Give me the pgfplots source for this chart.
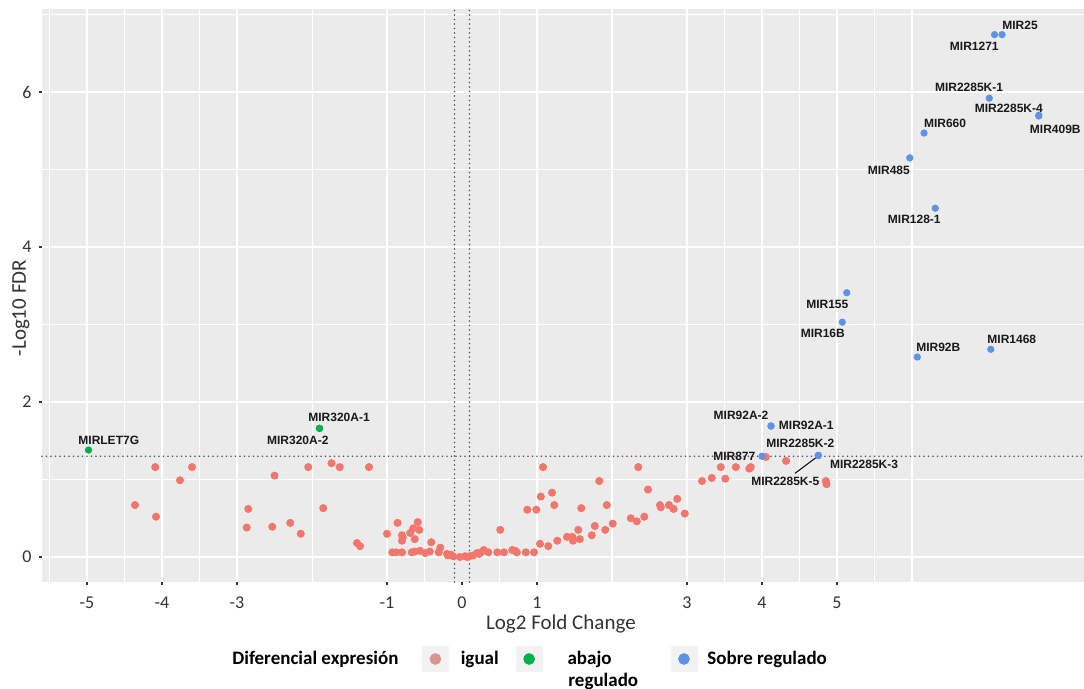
\documentclass[border=0pt]{standalone}
\usepackage{pgfplots}
\pgfplotsset{compat=1.18}
\usepackage{fontspec}
\setmainfont{Carlito}
\newfontfamily\lblfont{Liberation Sans}

\definecolor{panelgrey}{HTML}{EBEBEB}
\definecolor{igualc}{HTML}{F1766B}
\definecolor{abajoc}{HTML}{00B04A}
\definecolor{sobrec}{HTML}{5E92E6}
\definecolor{keybg}{HTML}{F2F2F2}
\definecolor{thr}{HTML}{555555}
\definecolor{tickc}{HTML}{333333}

% 1 px of the 1084 x 689 canvas = 0.5pt
\tikzset{
  majorgrid/.style={white, line width=1pt},
  minorgrid/.style={white, line width=0.5pt},
  threshold/.style={thr, line width=0.9pt, line cap=round, dash pattern=on 0pt off 2.25pt},
  mirlabel/.style={font=\lblfont\bfseries\fontsize{6}{6}\selectfont, inner sep=0pt, text=black!90},
}

\begin{document}
\begin{tikzpicture}
\begin{axis}[
  scale only axis,
  width=521pt, height=286.5pt,
  xmin=-5.6, xmax=8.293,
  ymin=-0.3226, ymax=7.071,
  axis background/.style={fill=panelgrey},
  axis line style={draw=none},
  clip=false,
  xtick={-5,-4,-3,-1,0,1,3,4,5},
  xticklabels={-5,-4,-3,-1,0,1,3,4,5},
  ytick={0,2,4,6},
  yticklabels={0,2,4,6},
  tick align=outside,
  major tick length=1.5pt,
  tick style={draw=tickc, line width=0.6pt},
  xtick pos=bottom, ytick pos=left,
  xticklabel style={font=\fontsize{9}{9}\selectfont, text=tickc, anchor=center, inner sep=0pt, yshift=-9pt},
  yticklabel style={font=\fontsize{9}{9}\selectfont, text=tickc, anchor=east, inner sep=0pt, xshift=-3.5pt},
  xlabel={Log2 Fold Change},
  ylabel={-Log10 FDR},
  xlabel style={font=\fontsize{10.5}{11}\selectfont, text=black!80, at={(axis description cs:0.498,-0.0733)}, anchor=center},
  ylabel style={font=\fontsize{10.5}{11}\selectfont, text=black!80, at={(axis description cs:-0.0202,0.478)}, anchor=center, rotate=0},
  legend columns=3,
  legend style={at={(axis description cs:0.3647,-0.1344)}, anchor=west,
    draw=none, fill=none, inner sep=0pt, outer sep=0pt,
    font=\bfseries\fontsize{9.5}{10}\selectfont,
    nodes={inner sep=0pt}, cells={anchor=west},
    /tikz/column 1/.style={column sep=6pt},
    /tikz/column 2/.style={column sep=8.5pt},
    /tikz/column 3/.style={column sep=12.5pt},
    /tikz/column 4/.style={column sep=29.5pt},
    /tikz/column 5/.style={column sep=5pt}},
  legend image code/.code={
    \fill[keybg] (0pt,-6.25pt) rectangle (13pt,6.25pt);
    \fill (6.5pt,0pt) circle (2.7pt);
  },
]

% background grid
\pgfplotsinvokeforeach{1,3,5,7}{\draw[minorgrid] (axis cs:-5.6,#1) -- (axis cs:8.293,#1);}
\pgfplotsinvokeforeach{-5.5,-4.5,-3.5,-2,-0.5,0.5,3.5,4.5,5.5}{\draw[minorgrid] (axis cs:#1,-0.3226) -- (axis cs:#1,7.071);}
\pgfplotsinvokeforeach{0,2,4,6}{\draw[majorgrid] (axis cs:-5.6,#1) -- (axis cs:8.293,#1);}
\pgfplotsinvokeforeach{-5,-4,-3,-1,1,2,3,4,5,6}{\draw[majorgrid] (axis cs:#1,-0.3226) -- (axis cs:#1,7.071);}

% significance thresholds
\draw[threshold] (axis cs:-5.6,1.301) -- (axis cs:8.293,1.301);
\draw[threshold] (axis cs:-0.1,-0.3226) -- (axis cs:-0.1,7.071);
\draw[threshold] (axis cs:0.1,-0.3226) -- (axis cs:0.1,7.071);

% not significant
\addplot[only marks, mark=*, mark size=1.8pt, color=igualc, mark options={draw=none, fill=igualc}, forget plot] table {
x y
-4.36 0.67
-4.09 1.16
-4.08 0.52
-3.76 0.99
-3.60 1.16
-2.87 0.38
-2.85 0.62
-2.53 0.39
-2.50 1.05
-2.29 0.44
-2.15 0.30
-2.05 1.16
-1.85 0.63
-1.74 1.21
-1.63 1.16
-1.40 0.18
-1.36 0.14
-1.24 1.16
-1.00 0.30
-0.86 0.44
-0.80 0.28
-0.79 0.25
-0.80 0.21
-0.69 0.31
-0.65 0.37
-0.59 0.45
-0.57 0.35
-0.63 0.23
-0.41 0.19
-0.29 0.12
-0.93 0.06
-0.88 0.06
-0.80 0.06
-0.67 0.06
-0.63 0.07
-0.56 0.08
-0.49 0.05
-0.43 0.07
-0.31 0.06
-0.20 0.04
-0.19 0.02
-0.15 0.03
-0.12 0.01
-0.03 0.00
0.04 0.01
0.07 0.00
0.10 0.01
0.15 0.02
0.20 0.05
0.23 0.04
0.25 0.06
0.29 0.09
0.35 0.06
0.47 0.06
0.56 0.06
0.67 0.09
0.71 0.08
0.73 0.06
0.85 0.06
0.96 0.06
0.51 0.35
0.87 0.61
0.99 0.61
1.04 0.17
1.05 0.78
1.08 1.16
1.15 0.14
1.20 0.83
1.23 0.67
1.27 0.21
1.40 0.26
1.47 0.26
1.48 0.21
1.55 0.35
1.57 0.23
1.59 0.63
1.73 0.28
1.77 0.40
1.83 0.98
1.91 0.35
1.93 0.67
2.01 0.43
2.25 0.50
2.33 0.46
2.35 1.16
2.43 0.52
2.48 0.87
2.64 0.67
2.65 0.64
2.76 0.67
2.82 0.62
2.87 0.75
2.97 0.56
3.20 0.98
3.33 1.02
3.45 1.16
3.51 1.01
3.65 1.16
3.83 1.14
3.85 1.16
4.05 1.29
4.32 1.24
4.85 0.98
4.86 0.94
};

% down-regulated
\addplot[only marks, mark=*, mark size=1.6pt, color=abajoc, mark options={draw=none, fill=abajoc}, forget plot] table {
x y
-4.98 1.38
-1.90 1.66
-1.90 1.66
};

% up-regulated
\addplot[only marks, mark=*, mark size=1.6pt, color=sobrec, mark options={draw=none, fill=sobrec}, forget plot] table {
x y
7.20 6.74
7.10 6.74
7.03 5.92
7.69 5.70
7.69 5.69
6.16 5.47
5.97 5.15
6.31 4.50
5.13 3.41
5.07 3.03
6.07 2.58
7.05 2.68
4.12 1.69
4.12 1.69
4.00 1.30
4.75 1.31
4.75 1.31
4.75 1.31
};

% miRNA names
\node[mirlabel] at (axis cs:7.44,6.86) {MIR25};
\node[mirlabel] at (axis cs:6.83,6.59) {MIR1271};
\node[mirlabel] at (axis cs:6.76,6.06) {MIR2285K-1};
\node[mirlabel] at (axis cs:7.29,5.79) {MIR2285K-4};
\node[mirlabel] at (axis cs:7.91,5.52) {MIR409B};
\node[mirlabel] at (axis cs:6.44,5.60) {MIR660};
\node[mirlabel] at (axis cs:5.69,4.99) {MIR485};
\node[mirlabel] at (axis cs:6.03,4.35) {MIR128-1};
\node[mirlabel] at (axis cs:4.87,3.26) {MIR155};
\node[mirlabel] at (axis cs:4.81,2.89) {MIR16B};
\node[mirlabel] at (axis cs:6.35,2.71) {MIR92B};
\node[mirlabel] at (axis cs:7.33,2.81) {MIR1468};
\node[mirlabel] at (axis cs:3.72,1.83) {MIR92A-2};
\node[mirlabel] at (axis cs:4.59,1.70) {MIR92A-1};
\node[mirlabel] at (axis cs:4.51,1.46) {MIR2285K-2};
\node[mirlabel] at (axis cs:3.63,1.30) {MIR877};
\node[mirlabel] at (axis cs:5.36,1.20) {MIR2285K-3};
\node[mirlabel] at (axis cs:4.31,0.98) {MIR2285K-5};
\draw[black, line width=0.5pt] (axis cs:4.44,1.08) -- (axis cs:4.73,1.29);
\node[mirlabel] at (axis cs:-4.71,1.51) {MIRLET7G};
\node[mirlabel] at (axis cs:-1.64,1.80) {MIR320A-1};
\node[mirlabel] at (axis cs:-2.19,1.51) {MIR320A-2};

% legend
\node[anchor=west, inner sep=0pt, font=\bfseries\fontsize{9.5}{10}\selectfont] at (axis description cs:0.1823,-0.1344) {Diferencial expresión};
\addlegendimage{only marks, mark=*, color=igualc!70!gray!80!white}
\addlegendentry{igual}
\addlegendimage{only marks, mark=*, color=abajoc}
\addlegendentry{abajo}
\addlegendimage{only marks, mark=*, color=sobrec}
\addlegendentry{Sobre regulado}
\node[anchor=west, inner sep=0pt, font=\bfseries\fontsize{9.5}{10}\selectfont] at (axis description cs:0.5048,-0.1728) {regulado};
\end{axis}
\pgfresetboundingbox
\path[use as bounding box] (-21pt,-53.5pt) rectangle (521pt,291pt);
\end{tikzpicture}
\end{document}
